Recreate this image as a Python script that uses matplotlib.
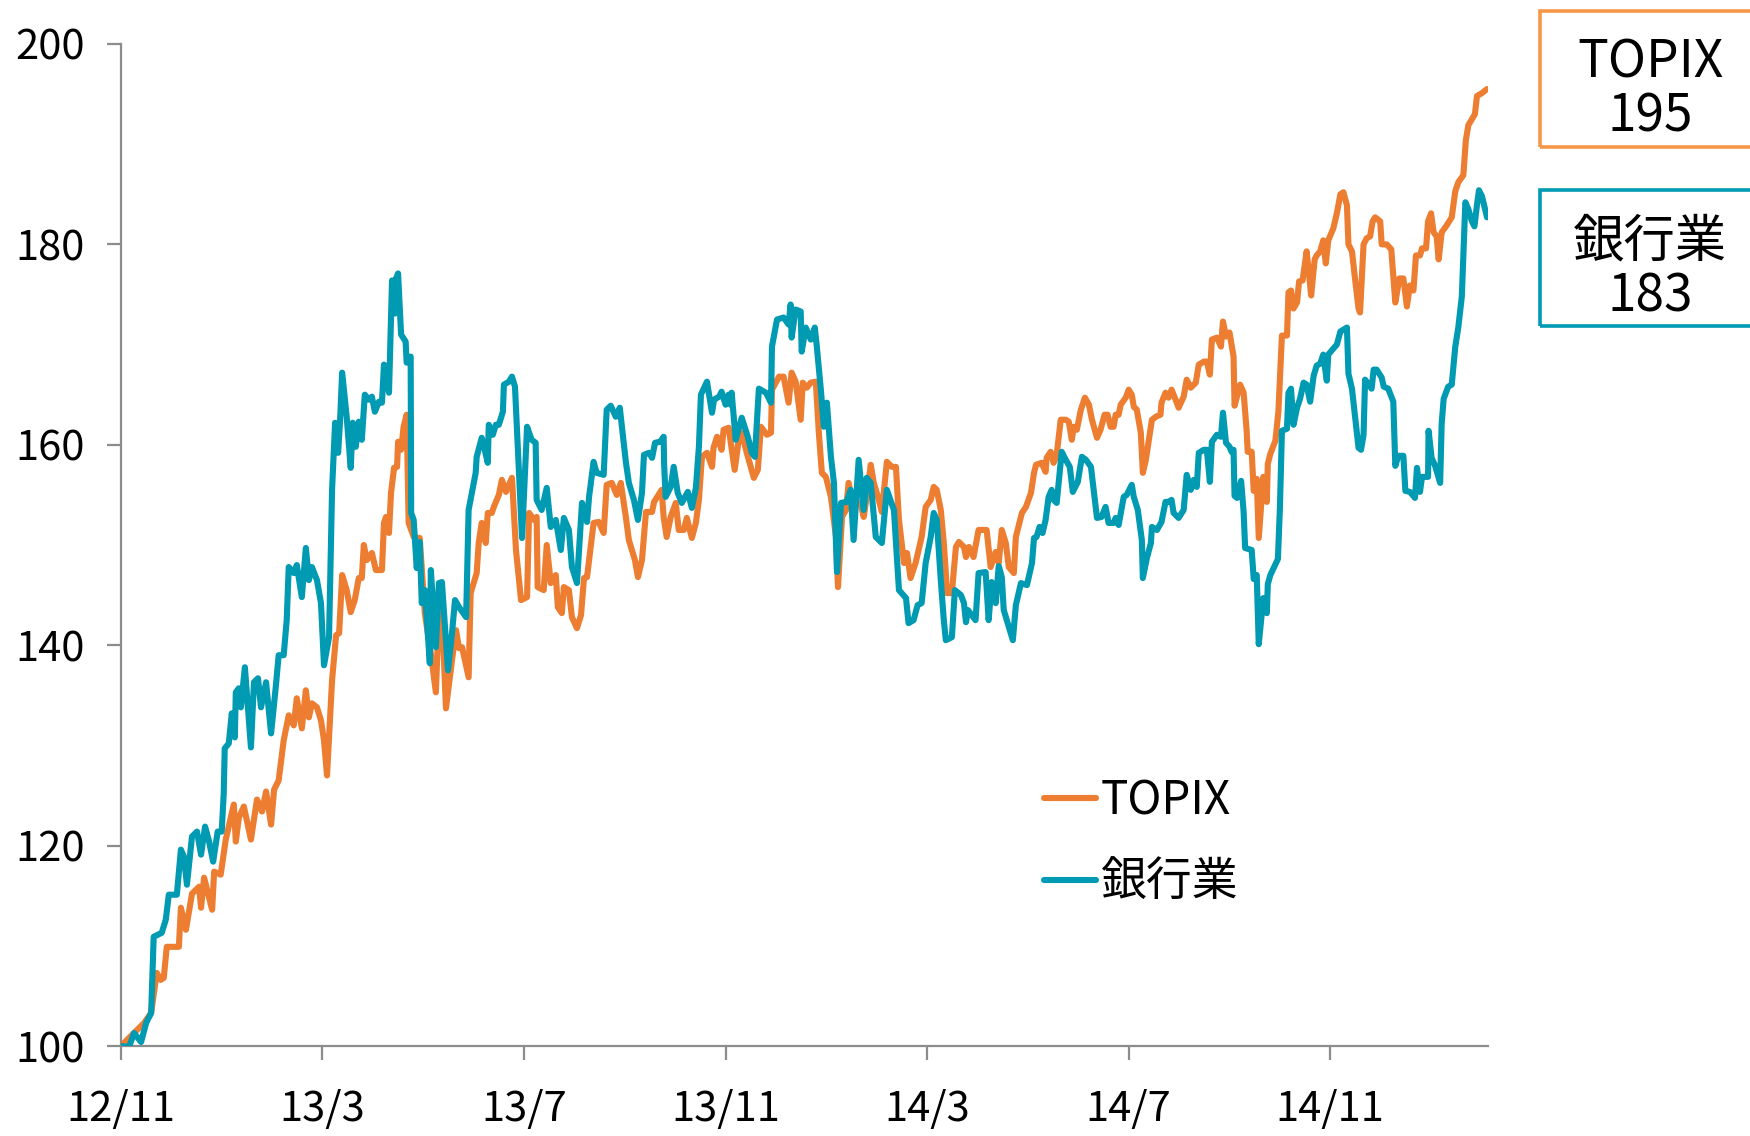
import matplotlib
matplotlib.use("Agg")
import matplotlib.pyplot as plt
from matplotlib.patches import Rectangle

plt.rcParams['font.family'] = ['Noto Sans CJK JP', 'DejaVu Sans']

# months since 2012/11 (start of series) and index values (2012/11 = 100)
topix_m = [0, 0.06, 0.26, 0.46, 0.6, 0.71, 0.79, 0.85, 0.91, 1.15, 1.19, 1.29, 1.41, 1.55, 1.59, 1.65,
           1.81, 1.85, 1.98, 2.08, 2.24, 2.28, 2.34, 2.44, 2.58, 2.7, 2.8, 2.88, 2.98, 3.04, 3.13, 3.23,
           3.33, 3.43, 3.49, 3.59, 3.67, 3.73, 3.79, 3.89, 3.97, 4.03, 4.09, 4.19, 4.27, 4.33, 4.39, 4.48,
           4.56, 4.64, 4.72, 4.78, 4.82, 4.88, 4.98, 5.06, 5.18, 5.22, 5.26, 5.32, 5.36, 5.42, 5.48, 5.5,
           5.56, 5.61, 5.67, 5.71, 5.81, 5.93, 6.03, 6.15, 6.25, 6.31, 6.37, 6.45, 6.57, 6.65, 6.71, 6.77,
           6.9, 6.94, 7.06, 7.1, 7.16, 7.24, 7.28, 7.36, 7.4, 7.5, 7.56, 7.64, 7.76, 7.84, 7.94, 8.06,
           8.1, 8.2, 8.25, 8.27, 8.39, 8.45, 8.53, 8.63, 8.67, 8.75, 8.79, 8.89, 8.95, 9.05, 9.13, 9.19,
           9.25, 9.38, 9.48, 9.58, 9.64, 9.74, 9.84, 9.92, 10.02, 10.08, 10.2, 10.26, 10.34, 10.42, 10.54, 10.58,
           10.73, 10.77, 10.83, 10.91, 11.01, 11.07, 11.17, 11.23, 11.33, 11.41, 11.47, 11.53, 11.63, 11.73, 11.76, 11.83,
           11.92, 11.96, 12.06, 12.18, 12.26, 12.32, 12.42, 12.56, 12.64, 12.7, 12.82, 12.9, 12.92, 13.06, 13.15, 13.25,
           13.31, 13.39, 13.49, 13.53, 13.61, 13.69, 13.79, 13.85, 13.91, 13.99, 14.09, 14.19, 14.23, 14.31, 14.39, 14.44,
           14.54, 14.68, 14.74, 14.8, 14.88, 14.94, 15.04, 15.1, 15.2, 15.3, 15.38, 15.44, 15.54, 15.6, 15.67, 15.77,
           15.89, 15.97, 16.07, 16.13, 16.19, 16.27, 16.33, 16.37, 16.39, 16.49, 16.57, 16.63, 16.73, 16.77, 16.83, 16.92,
           17.02, 17.18, 17.26, 17.36, 17.42, 17.48, 17.56, 17.62, 17.72, 17.76, 17.88, 17.96, 18.06, 18.12, 18.16, 18.27,
           18.35, 18.37, 18.45, 18.51, 18.57, 18.65, 18.75, 18.81, 18.87, 18.91, 18.97, 19.05, 19.13, 19.21, 19.27, 19.37,
           19.44, 19.52, 19.58, 19.64, 19.7, 19.74, 19.8, 19.84, 19.94, 20.0, 20.06, 20.1, 20.16, 20.24, 20.28, 20.34,
           20.4, 20.46, 20.54, 20.63, 20.65, 20.73, 20.79, 20.85, 20.93, 20.99, 21.09, 21.15, 21.23, 21.33, 21.39, 21.49,
           21.55, 21.61, 21.65, 21.75, 21.83, 21.87, 21.93, 22.0, 22.08, 22.1, 22.21, 22.28, 22.34, 22.36, 22.44, 22.48,
           22.54, 22.58, 22.67, 22.74, 22.76, 22.81, 22.91, 22.97, 23.04, 23.14, 23.17, 23.22, 23.27, 23.34, 23.38, 23.45,
           23.53, 23.57, 23.62, 23.69, 23.73, 23.8, 23.86, 23.91, 23.96, 24.06, 24.13, 24.2, 24.26, 24.33, 24.36, 24.43,
           24.49, 24.56, 24.59, 24.66, 24.72, 24.79, 24.84, 24.89, 24.99, 25.02, 25.12, 25.21, 25.29, 25.37, 25.45, 25.52,
           25.58, 25.65, 25.7, 25.78, 25.82, 25.9, 25.94, 26.0, 26.05, 26.11, 26.15, 26.21, 26.31, 26.41, 26.48, 26.54,
           26.64, 26.69, 26.74, 26.81, 26.87, 26.91, 27.01, 27.11]
topix_v = [100.0, 100.3, 101.3, 102.3, 103.3, 107.3, 106.6, 106.8, 109.9, 109.9, 113.8, 111.6, 115.2, 115.9, 113.8, 116.8,
           113.6, 117.4, 117.1, 120.6, 124.1, 120.4, 122.8, 123.9, 120.6, 124.6, 123.4, 125.4, 122.1, 125.6, 126.5, 130.5,
           133.0, 132.0, 134.7, 131.7, 135.5, 132.8, 134.2, 133.8, 132.5, 130.5, 127.0, 136.5, 141.0, 141.2, 147.0, 145.5,
           143.3, 144.5, 146.7, 146.7, 150.0, 148.5, 149.2, 147.5, 147.5, 152.2, 152.8, 151.2, 155.2, 157.7, 157.8, 160.3,
           159.5, 161.8, 163.0, 152.2, 150.8, 150.7, 143.2, 139.2, 135.3, 143.2, 143.5, 133.7, 138.5, 141.5, 139.7, 139.8,
           136.8, 145.2, 147.2, 150.2, 152.2, 150.2, 153.2, 153.2, 153.8, 155.0, 156.5, 155.3, 156.7, 149.5, 144.5, 144.8,
           153.2, 152.5, 152.8, 145.8, 145.5, 150.0, 146.2, 147.0, 143.8, 143.2, 145.8, 145.5, 142.8, 141.7, 143.0, 146.7,
           146.8, 152.2, 152.3, 151.2, 156.0, 156.2, 155.0, 156.2, 152.8, 150.5, 148.5, 146.8, 148.5, 153.3, 153.3, 154.3,
           155.5, 152.8, 150.8, 152.8, 154.2, 151.5, 151.5, 152.7, 150.7, 152.2, 154.5, 158.8, 159.2, 157.8, 159.7, 160.8,
           159.5, 161.5, 161.7, 157.5, 160.5, 161.2, 159.2, 156.7, 157.5, 161.8, 161.0, 161.2, 165.5, 166.8, 166.8, 164.2,
           167.2, 166.3, 162.5, 166.2, 165.7, 166.2, 166.3, 161.2, 157.2, 156.8, 154.8, 150.8, 145.8, 152.8, 153.5, 156.2,
           153.8, 154.2, 152.8, 154.8, 158.0, 156.2, 154.5, 153.3, 158.3, 157.8, 157.8, 152.5, 148.2, 149.2, 146.7, 148.2,
           150.8, 153.8, 154.5, 155.8, 155.5, 153.5, 150.2, 147.2, 145.2, 145.2, 149.8, 150.3, 149.8, 148.8, 149.8, 148.8,
           151.5, 151.5, 147.8, 149.3, 148.2, 151.5, 150.2, 147.8, 147.2, 150.8, 153.2, 153.8, 155.2, 157.2, 158.0, 158.2,
           157.3, 158.7, 159.3, 158.2, 159.0, 162.5, 162.5, 162.3, 160.5, 161.8, 161.5, 163.5, 164.7, 164.0, 162.5, 160.7,
           161.5, 163.0, 163.0, 161.8, 161.8, 163.0, 163.0, 164.0, 164.7, 165.5, 165.0, 163.8, 163.5, 161.2, 157.2, 158.5,
           160.5, 162.5, 162.8, 163.0, 164.2, 165.2, 164.7, 165.5, 164.5, 163.7, 164.8, 166.5, 165.7, 166.2, 168.0, 168.3,
           168.3, 167.0, 170.5, 170.7, 169.8, 172.3, 170.8, 171.2, 168.8, 163.9, 166.0, 165.2, 161.4, 159.3, 159.3, 155.4,
           156.6, 150.7, 156.8, 154.3, 158.1, 159.1, 160.4, 163.3, 170.9, 170.9, 175.2, 175.4, 173.6, 174.2, 176.3, 176.4,
           179.3, 177.4, 174.9, 178.5, 178.9, 179.3, 180.4, 178.1, 180.4, 181.6, 183.1, 185.0, 185.2, 183.9, 180.0, 179.3,
           176.6, 173.6, 173.2, 180.0, 180.6, 180.8, 182.3, 182.7, 182.3, 180.0, 180.0, 179.5, 174.2, 176.6, 176.6, 173.8,
           175.9, 175.4, 178.9, 178.9, 179.6, 179.6, 182.3, 183.1, 181.2, 180.8, 178.5, 181.2, 181.9, 182.7, 185.3, 186.2,
           186.9, 190.4, 191.9, 192.5, 193.0, 194.8, 195.1, 195.5]

bank_m = [0, 0.16, 0.26, 0.4, 0.5, 0.6, 0.65, 0.81, 0.89, 0.95, 1.11, 1.19, 1.25, 1.31, 1.41, 1.51,
          1.59, 1.67, 1.75, 1.83, 1.92, 2.0, 2.04, 2.06, 2.14, 2.2, 2.26, 2.28, 2.34, 2.38, 2.46, 2.58,
          2.64, 2.72, 2.78, 2.88, 2.98, 3.08, 3.13, 3.23, 3.29, 3.33, 3.43, 3.49, 3.59, 3.67, 3.73, 3.79,
          3.89, 3.97, 4.03, 4.13, 4.19, 4.25, 4.31, 4.35, 4.39, 4.48, 4.56, 4.6, 4.66, 4.72, 4.78, 4.84,
          4.92, 4.98, 5.04, 5.12, 5.18, 5.22, 5.26, 5.32, 5.38, 5.44, 5.46, 5.5, 5.56, 5.65, 5.67, 5.75,
          5.76, 5.81, 5.87, 5.93, 5.97, 6.03, 6.13, 6.15, 6.25, 6.31, 6.37, 6.49, 6.57, 6.63, 6.71, 6.85,
          6.9, 7.04, 7.06, 7.16, 7.22, 7.28, 7.3, 7.38, 7.44, 7.5, 7.58, 7.6, 7.7, 7.76, 7.82, 7.96,
          8.06, 8.15, 8.23, 8.25, 8.35, 8.45, 8.53, 8.63, 8.73, 8.79, 8.89, 8.95, 9.05, 9.15, 9.25, 9.29,
          9.38, 9.44, 9.58, 9.64, 9.72, 9.82, 9.9, 10.02, 10.08, 10.18, 10.26, 10.34, 10.38, 10.48, 10.54, 10.6,
          10.7, 10.77, 10.78, 10.81, 10.91, 10.97, 11.05, 11.13, 11.25, 11.33, 11.41, 11.47, 11.51, 11.63, 11.73, 11.77,
          11.87, 11.92, 12.0, 12.06, 12.1, 12.12, 12.2, 12.32, 12.44, 12.52, 12.58, 12.66, 12.8, 12.9, 12.92, 13.02,
          13.15, 13.25, 13.29, 13.31, 13.39, 13.49, 13.51, 13.59, 13.69, 13.77, 13.81, 13.89, 13.95, 14.01, 14.09, 14.15,
          14.21, 14.29, 14.4, 14.48, 14.54, 14.64, 14.74, 14.8, 14.88, 14.98, 15.1, 15.2, 15.34, 15.44, 15.58, 15.63,
          15.73, 15.81, 15.89, 15.97, 16.07, 16.13, 16.19, 16.27, 16.33, 16.37, 16.49, 16.55, 16.67, 16.73, 16.77, 16.81,
          16.96, 17.02, 17.16, 17.22, 17.28, 17.36, 17.42, 17.48, 17.52, 17.58, 17.7, 17.76, 17.86, 17.98, 18.08, 18.12,
          18.17, 18.23, 18.29, 18.35, 18.41, 18.47, 18.51, 18.57, 18.67, 18.75, 18.83, 18.89, 18.99, 19.07, 19.15, 19.25,
          19.37, 19.46, 19.54, 19.6, 19.7, 19.74, 19.8, 19.9, 19.96, 20.06, 20.1, 20.18, 20.26, 20.28, 20.36, 20.44,
          20.46, 20.56, 20.65, 20.73, 20.79, 20.85, 20.89, 20.99, 21.09, 21.15, 21.23, 21.29, 21.35, 21.39, 21.49, 21.55,
          21.61, 21.65, 21.75, 21.83, 21.87, 21.93, 22.0, 22.04, 22.08, 22.1, 22.15, 22.23, 22.28, 22.31, 22.44, 22.48,
          22.54, 22.58, 22.67, 22.74, 22.76, 22.81, 22.96, 23.0, 23.04, 23.14, 23.17, 23.22, 23.27, 23.34, 23.4, 23.47,
          23.53, 23.6, 23.67, 23.73, 23.8, 23.86, 23.93, 23.96, 24.06, 24.13, 24.2, 24.33, 24.36, 24.43, 24.49, 24.56,
          24.61, 24.66, 24.69, 24.76, 24.82, 24.86, 24.92, 25.02, 25.06, 25.15, 25.25, 25.29, 25.35, 25.45, 25.49, 25.58,
          25.68, 25.72, 25.78, 25.82, 25.94, 25.95, 26.01, 26.08, 26.18, 26.21, 26.25, 26.34, 26.41, 26.48, 26.54, 26.61,
          26.68, 26.74, 26.81, 26.86, 26.91, 26.95, 27.01, 27.11]
bank_v = [100.0, 99.9, 101.3, 100.4, 102.3, 103.3, 110.9, 111.3, 112.6, 115.1, 115.1, 119.6, 118.9, 116.1, 120.9, 121.4,
          119.1, 121.9, 120.4, 118.4, 121.4, 121.4, 125.2, 129.7, 130.2, 133.2, 130.8, 135.3, 135.7, 133.8, 137.8, 129.8,
          136.3, 136.7, 133.8, 136.3, 131.2, 136.2, 139.0, 139.0, 142.5, 147.8, 147.2, 148.0, 144.8, 149.7, 146.5, 147.8,
          146.5, 144.2, 138.0, 140.8, 155.5, 162.2, 159.2, 162.5, 167.2, 162.8, 157.7, 162.2, 159.8, 162.3, 160.5, 165.0,
          164.5, 164.8, 163.3, 164.3, 164.2, 168.0, 167.8, 165.2, 176.4, 173.1, 176.6, 177.1, 171.0, 170.3, 168.2, 168.8,
          153.2, 152.5, 147.7, 150.3, 144.2, 145.5, 138.2, 147.5, 139.8, 146.2, 146.3, 137.5, 141.2, 144.5, 143.8, 142.8,
          153.5, 157.2, 158.8, 160.7, 159.5, 158.2, 162.0, 161.0, 162.0, 162.0, 163.3, 166.0, 166.3, 166.8, 165.8, 150.7,
          161.8, 160.5, 160.2, 154.5, 153.5, 155.7, 151.8, 152.5, 149.5, 152.7, 151.5, 147.8, 146.2, 154.2, 152.3, 154.8,
          158.3, 157.2, 157.0, 163.5, 163.9, 162.8, 163.7, 158.3, 156.2, 154.5, 152.5, 155.2, 159.0, 159.2, 158.7, 160.2,
          160.3, 160.8, 158.0, 154.8, 155.8, 157.8, 155.2, 154.2, 155.3, 153.7, 155.7, 159.8, 165.0, 166.3, 163.2, 164.5,
          164.8, 165.3, 164.0, 165.0, 164.0, 165.2, 160.5, 162.7, 160.8, 159.2, 158.8, 165.6, 165.2, 164.2, 169.8, 172.5,
          172.7, 172.0, 174.0, 170.7, 173.5, 173.3, 169.3, 171.7, 170.5, 171.7, 169.8, 165.5, 161.8, 164.2, 158.8, 156.2,
          147.3, 154.2, 154.3, 155.5, 150.5, 158.5, 153.5, 156.7, 156.2, 150.8, 150.2, 155.5, 153.5, 145.5, 144.7, 142.2,
          142.5, 144.0, 144.2, 148.2, 150.8, 153.2, 152.5, 146.5, 142.5, 140.5, 140.8, 145.5, 145.0, 144.2, 142.3, 143.5,
          142.5, 147.2, 147.3, 142.5, 146.3, 144.2, 147.9, 146.8, 143.5, 142.5, 140.5, 144.0, 146.2, 146.0, 148.2, 150.7,
          150.8, 151.8, 151.2, 152.5, 154.8, 155.5, 154.5, 154.2, 159.3, 158.5, 157.8, 155.3, 156.3, 158.8, 158.5, 157.8,
          152.7, 152.8, 153.8, 152.2, 152.2, 152.7, 152.0, 154.8, 155.0, 156.0, 154.8, 153.5, 150.5, 146.7, 148.7, 150.2,
          151.8, 151.5, 152.3, 154.3, 154.3, 154.5, 153.2, 152.7, 153.5, 157.0, 155.5, 156.5, 155.8, 159.2, 159.5, 159.5,
          156.3, 160.3, 161.0, 160.8, 163.2, 160.2, 159.8, 159.3, 159.5, 154.9, 154.7, 156.4, 153.3, 149.7, 149.5, 146.6,
          147.0, 140.1, 144.7, 143.2, 146.1, 147.0, 148.6, 153.7, 161.4, 161.6, 165.2, 165.6, 162.0, 163.7, 164.6, 166.2,
          166.0, 164.3, 166.9, 167.9, 168.1, 169.0, 166.4, 169.0, 169.6, 170.0, 171.3, 171.7, 167.1, 165.6, 162.9, 159.7,
          159.5, 161.0, 166.5, 166.0, 165.6, 167.5, 167.5, 166.7, 165.8, 165.6, 164.3, 157.9, 158.9, 158.9, 155.4, 155.3,
          154.7, 157.7, 155.3, 156.8, 156.8, 161.4, 158.7, 157.9, 156.2, 162.1, 164.6, 165.8, 166.0, 169.8, 171.7, 174.8,
          184.2, 183.5, 182.3, 181.8, 183.9, 185.4, 184.8, 182.7]

tick_months = [0, 4, 8, 12, 16, 20, 24]
tick_labels = ["12/11", "13/3", "13/7", "13/11", "14/3", "14/7", "14/11"]
y_ticks = [100, 120, 140, 160, 180, 200]
series_names = ["TOPIX", "銀行業"]
latest_values = ["195", "183"]

ORANGE = "#ED7D31"
TEAL = "#009AB3"
BOX_ORANGE = "#F79646"
GRAY = "#8C8C8C"

fig = plt.figure(figsize=(17.5, 11.36), dpi=100)
ax = fig.add_axes([0.0691, 0.0792, 0.7812, 0.8821])

ax.plot(topix_m, topix_v, color=ORANGE, lw=4.4, solid_joinstyle='round',
        solid_capstyle='round', label=series_names[0], zorder=3)
ax.plot(bank_m, bank_v, color=TEAL, lw=4.4, solid_joinstyle='round',
        solid_capstyle='round', label=series_names[1], zorder=4)

ax.set_xlim(0, 27.13)
ax.set_ylim(100, 200)
ax.set_yticks(y_ticks)
ax.set_yticklabels([str(t) for t in y_ticks])
ax.set_xticks(tick_months)
ax.set_xticklabels(tick_labels)

for s in ["top", "right"]:
    ax.spines[s].set_visible(False)
for s in ["left", "bottom"]:
    ax.spines[s].set_color(GRAY)
    ax.spines[s].set_linewidth(1.6)
ax.tick_params(axis='both', colors=GRAY, width=1.6, length=10, labelcolor='black', labelsize=30)
ax.tick_params(axis='y', pad=16)
ax.tick_params(axis='x', pad=21)

leg = ax.legend(loc='center left', bbox_to_anchor=(0.675, 0.204), frameon=False, fontsize=33,
                handlelength=1.15, handletextpad=0.1, labelspacing=0.72, borderpad=0, borderaxespad=0)

# value boxes at right
boxes = [(0.8706, BOX_ORANGE), (0.7130, TEAL)]
for (y0, col), name, val in zip(boxes, series_names, latest_values):
    fig.add_artist(Rectangle((0.880, y0), 0.2, 0.1197, transform=fig.transFigure,
                             fill=False, edgecolor=col, lw=2.6, clip_on=False))
    fig.text(0.943, y0 + 0.0745, name, ha='center', va='center', fontsize=37)
    fig.text(0.943, y0 + 0.0262, val, ha='center', va='center', fontsize=37)

fig.savefig("out.png", dpi=100)
